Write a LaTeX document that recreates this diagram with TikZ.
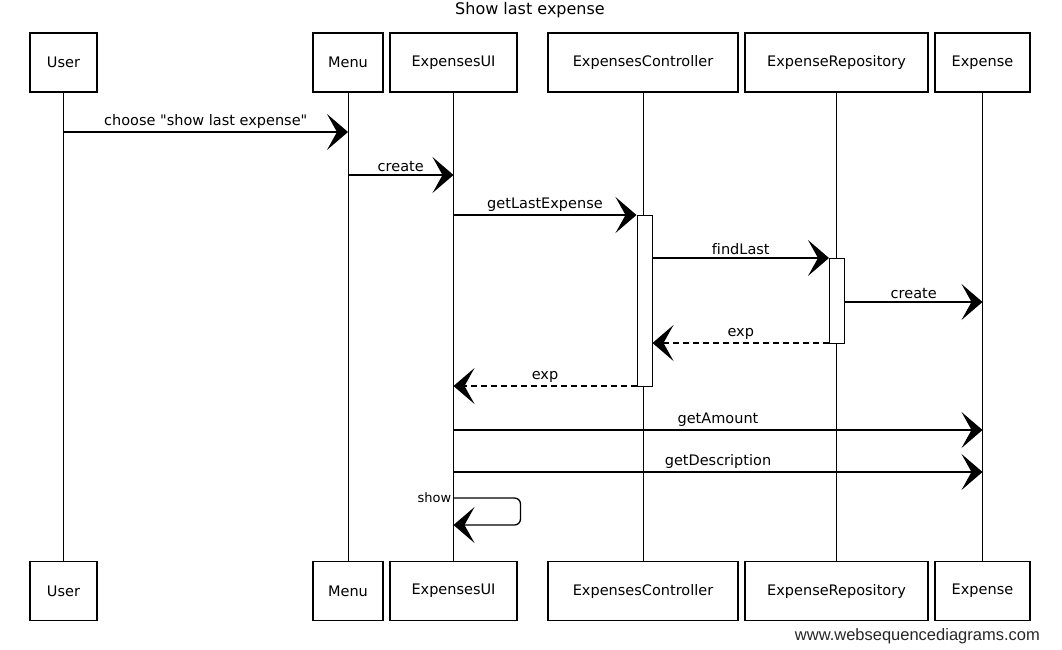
\documentclass[tikz,border=0pt]{standalone}
\usepackage{fontspec}
\setmainfont[Ligatures=NoCommon]{DejaVu Sans}
\newfontfamily\wmfont{Liberation Sans}
\usetikzlibrary{arrows.meta,calc}
\begin{document}
\begin{tikzpicture}[x=1pt,y=-1pt,
  txt/.style={font=\fontsize{14.5}{17}\selectfont},
  actor/.style={draw,line width=1.3pt,minimum height=59pt,inner sep=0pt,txt},
  life/.style={line width=0.9pt},
  actbar/.style={draw,fill=white,line width=1pt,minimum width=15pt,inner sep=0pt},
  msg/.style={line width=1.3pt,-{Stealth[length=21pt,width=36pt,inset=10pt]}},
  ret/.style={msg,dash pattern=on 6pt off 4pt},
  lbl/.style={txt,above,inner sep=2.5pt}
]
\useasboundingbox (0,0) rectangle (1062,649);

% title
\node[font=\fontsize{16}{19}\selectfont,anchor=north,inner sep=0pt] (title) at (530,2) {Show last expense};

% participants, top row
\node[actor,minimum width=67pt]  (user) at (63.5,62.5)  {User};
\node[actor,minimum width=70pt]  (menu) at (348,62.5)   {Menu};
\node[actor,minimum width=127pt] (ui)   at (453.5,62.5) {ExpensesUI};
\node[actor,minimum width=190pt] (ctrl) at (643,62.5)   {ExpensesController};
\node[actor,minimum width=183pt] (repo) at (836.5,62.5) {ExpenseRepository};
\node[actor,minimum width=95pt]  (exp)  at (982.5,62.5) {Expense};

% participants, bottom row
\node[actor,minimum width=67pt]  (userB) at (63.5,591)  {User};
\node[actor,minimum width=70pt]  (menuB) at (348,591)   {Menu};
\node[actor,minimum width=127pt] (uiB)   at (453.5,591) {ExpensesUI};
\node[actor,minimum width=190pt] (ctrlB) at (643,591)   {ExpensesController};
\node[actor,minimum width=183pt] (repoB) at (836.5,591) {ExpenseRepository};
\node[actor,minimum width=95pt]  (expB)  at (982.5,591) {Expense};

% lifelines
\draw[life] (user) -- (userB);
\draw[life] (menu) -- (menuB);
\draw[life] (ui)   -- (uiB);
\draw[life] (ctrl) -- (ctrlB);
\draw[life] (repo) -- (repoB);
\draw[life] (exp)  -- (expB);

% message rows
\coordinate (r1) at (0,132);
\coordinate (r2) at (0,175);
\coordinate (r3) at (0,215);
\coordinate (r4) at (0,258);
\coordinate (r5) at (0,302);
\coordinate (r6) at (0,343);
\coordinate (r7) at (0,386);
\coordinate (r8) at (0,430);
\coordinate (r9) at (0,472);
\coordinate (s1) at (0,498);
\coordinate (s2) at (0,525);

% activation bars
\node[actbar,minimum height=171pt] (ctrlAct) at ($(ctrl |- 0,300.5)+(1.5,0)$) {};
\node[actbar,minimum height=85pt]  (repoAct) at ($(repo |- 0,300.5)+(0.5,0)$) {};

% messages
\draw[msg] (user |- r1) -- node[lbl] {choose \textquotedbl show last expense\textquotedbl} (menu |- r1);
\draw[msg] (menu |- r2) -- node[lbl] {create} (ui |- r2);
\draw[msg] (ui |- r3) -- node[lbl] {getLastExpense} (ctrlAct.west |- r3);
\draw[msg] (ctrlAct.east |- r4) -- node[lbl] {findLast} (repoAct.west |- r4);
\draw[msg] (repoAct.east |- r5) -- node[lbl] {create} (exp |- r5);
\draw[ret] (repoAct.west |- r6) -- node[lbl] {exp} (ctrlAct.east |- r6);
\draw[ret] (ctrlAct.west |- r7) -- node[lbl] {exp} (ui |- r7);
\draw[msg] (ui |- r8) -- node[lbl] {getAmount} (exp |- r8);
\draw[msg] (ui |- r9) -- node[lbl] {getDescription} (exp |- r9);

% self call
\coordinate (loopA) at ($(ui |- s1)+(67,0)$);
\coordinate (loopB) at ($(ui |- s2)+(67,0)$);
\draw[msg,rounded corners=6pt] (ui |- s1) -- (loopA) -- (loopB) -- (ui |- s2);
\node[anchor=east,inner sep=2pt,font=\fontsize{13}{15}\selectfont] (showlbl) at (ui |- s1) {show};

% footer
\node[anchor=east,inner sep=0pt,text=black!85,font=\wmfont\fontsize{16.5}{19}\selectfont] (wm) at (1040,636) {www.websequencediagrams.com};
\end{tikzpicture}
\end{document}
